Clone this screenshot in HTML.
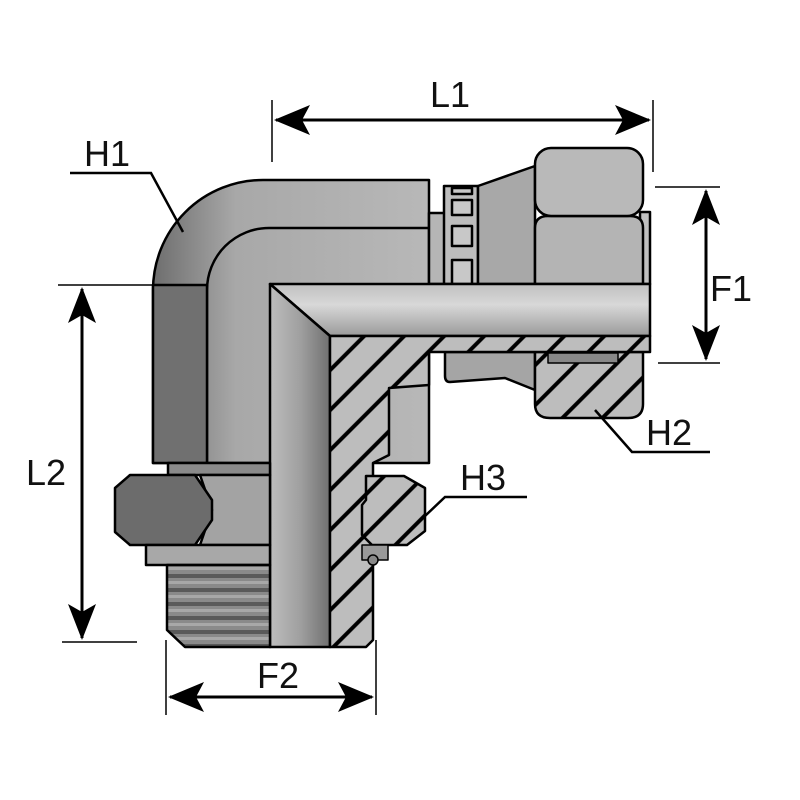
<!DOCTYPE html>
<html><head><meta charset="utf-8"><style>
html,body{margin:0;padding:0;background:#fff;width:800px;height:800px;overflow:hidden}
svg text{font-family:"Liberation Sans","DejaVu Sans",sans-serif;font-size:36px;fill:#111}
</style></head><body>
<svg width="800" height="800" viewBox="0 0 800 800" xmlns="http://www.w3.org/2000/svg">
<defs>
<pattern id="hatch" patternUnits="userSpaceOnUse" width="28.3" height="28.3" patternTransform="rotate(-45)">
<rect width="28.3" height="28.3" fill="#bdbdbd"/>
<line x1="0" y1="14" x2="28.3" y2="14" stroke="#000" stroke-width="4"/>
</pattern>
<pattern id="thread" patternUnits="userSpaceOnUse" width="10" height="14">
<rect width="10" height="14" fill="#8a8a8a"/>
<rect y="0" width="10" height="4" fill="#5a5a5a"/>
<rect y="7" width="10" height="3" fill="#a8a8a8"/>
</pattern>
<linearGradient id="elbow" x1="0" y1="0" x2="1" y2="0">
<stop offset="0" stop-color="#6e6e6e"/><stop offset="0.3" stop-color="#a8a8a8"/><stop offset="1" stop-color="#b8b8b8"/>
</linearGradient>
<linearGradient id="boreV" x1="0" y1="0" x2="1" y2="0">
<stop offset="0" stop-color="#bdbdbd"/><stop offset="0.5" stop-color="#a0a0a0"/><stop offset="1" stop-color="#707070"/>
</linearGradient>
<linearGradient id="boreH" x1="0" y1="0" x2="0" y2="1">
<stop offset="0" stop-color="#c0c0c0"/><stop offset="0.4" stop-color="#d8d8d8"/><stop offset="1" stop-color="#9a9a9a"/>
</linearGradient>
</defs>
<g stroke="#000" stroke-width="2.5" stroke-linejoin="round">
<path d="M153,463 L153,290 A110,110 0 0 1 263,180 L429,180 L429,463 Z" fill="url(#elbow)"/>
<path d="M207,463 L207,290 A62,62 0 0 1 269,228 L429,228" fill="none"/>
<rect x="153" y="285" width="54" height="178" fill="#707070"/>
<rect x="429" y="213" width="16" height="71" fill="#b5b5b5"/>
<rect x="444" y="186" width="34" height="98" fill="#bdbdbd"/>
<rect x="452" y="188" width="20" height="6" fill="#c8c8c8"/>
<rect x="452" y="200" width="20" height="15" fill="#c8c8c8"/>
<rect x="452" y="226" width="20" height="20" fill="#c8c8c8"/>
<rect x="452" y="260" width="20" height="24" fill="#c8c8c8"/>
<path d="M478,186 L535,166 L535,284 L478,284 Z" fill="#a8a8a8"/>
<rect x="640" y="212" width="10" height="72" fill="#c0c0c0"/>
<path d="M535,284 L535,228 Q535,216 548,216 L630,216 Q643,216 643,228 L643,284 Z" fill="#b4b4b4"/>
<rect x="535" y="148" width="108" height="68" rx="16" fill="#b9b9b9"/>
<path d="M270,284 L650,284 L650,336 L330,336 Z" fill="url(#boreH)"/>
<path d="M270,284 L330,336 L330,647 L270,647 Z" fill="url(#boreV)"/>
<path d="M445,352 L535,352 L535,390 L505,378 L450,382 Q445,382 445,376 Z" fill="#a5a5a5"/>
<path d="M535,352 L643,352 L643,404 Q643,418 628,418 L550,418 Q535,418 535,404 Z" fill="url(#hatch)"/>
<rect x="548" y="353" width="70" height="10" fill="#888" stroke-width="1.5"/>
<path d="M330,336 L650,336 L650,352 L429,352 L429,385 L389,388 L389,455 L373,463 L373,640 L366,647 L330,647 Z" fill="url(#hatch)"/>
<rect x="168" y="463" width="102" height="12" fill="#8a8a8a"/>
<path d="M200,475 L270,475 L270,545 L200,545 L212,510 Z" fill="#a3a3a3"/>
<path d="M130,475 L195,475 L212,500 L212,520 L195,545 L130,545 L115,532 L115,488 Z" fill="#6c6c6c"/>
<rect x="146" y="545" width="124" height="20" fill="#a8a8a8"/>
<path d="M167,565 L270,565 L270,647 L185,647 L167,630 Z" fill="url(#thread)"/>
<path d="M366,476 L404,476 L425,488 L425,531 L407,545 L372,545 L362,535 L362,505 L366,500 Z" fill="url(#hatch)"/>
<rect x="362" y="545" width="26" height="15" fill="#999" stroke-width="1.5"/>
<circle cx="373" cy="560" r="5" fill="#888" stroke-width="1.5"/>
</g>
<g stroke="#000" stroke-width="1.5" fill="none">
<line x1="272" y1="100" x2="272" y2="162"/>
<line x1="653" y1="100" x2="653" y2="172"/>
<line x1="655" y1="187" x2="720" y2="187"/>
<line x1="658" y1="363" x2="720" y2="363"/>
<line x1="58" y1="285" x2="200" y2="285"/>
<line x1="62" y1="642" x2="137" y2="642"/>
<line x1="166" y1="640" x2="166" y2="715"/>
<line x1="376" y1="640" x2="376" y2="715"/>
</g>
<g stroke="#000" stroke-width="3">
<line x1="276" y1="120" x2="649" y2="120"/>
<line x1="706" y1="191" x2="706" y2="359"/>
<line x1="82" y1="289" x2="82" y2="638"/>
<line x1="170" y1="697" x2="372" y2="697"/>
</g>
<g fill="#000">
<path d="M274,120 L310,105 L302,120 L310,135 Z"/>
<path d="M651,120 L615,105 L623,120 L615,135 Z"/>
<path d="M706,189 L692,225 L706,217 L720,225 Z"/>
<path d="M706,361 L692,325 L706,333 L720,325 Z"/>
<path d="M82,287 L68,323 L82,315 L96,323 Z"/>
<path d="M82,640 L68,604 L82,612 L96,604 Z"/>
<path d="M168,697 L204,682 L196,697 L204,712 Z"/>
<path d="M374,697 L338,682 L346,697 L338,712 Z"/>
</g>
<g stroke="#000" stroke-width="2.5" fill="none">
<polyline points="70,173 151,173 183,232"/>
<polyline points="595,410 632,452 710,452"/>
<polyline points="527,497 445,497 405,535"/>
</g>
<text x="430" y="107">L1</text>
<text x="84" y="166">H1</text>
<text x="710" y="301">F1</text>
<text x="26" y="485">L2</text>
<text x="646" y="445">H2</text>
<text x="460" y="490">H3</text>
<text x="257" y="688">F2</text>
</svg>
</body></html>
